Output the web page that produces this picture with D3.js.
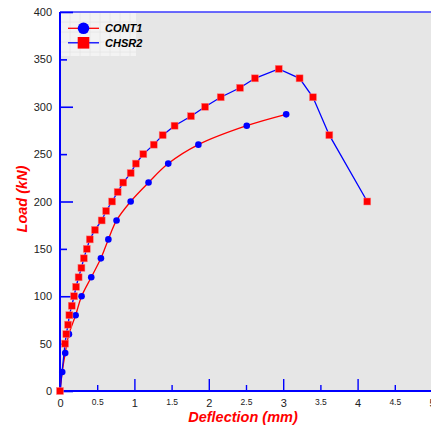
<!DOCTYPE html>
<html><head><meta charset="utf-8">
<script src="https://cdn.jsdelivr.net/npm/d3@7"></script>
<style>body{margin:0;background:#fff}svg{display:block}</style>
</head><body>
<svg id="c" width="431" height="428"></svg>
<script>
const seriesNames = ["CONT1", "CHSR2"];
const cont1X = [0, 0.03, 0.07, 0.12, 0.21, 0.29, 0.42, 0.55, 0.65, 0.76, 0.95, 1.19, 1.455, 1.86, 2.51, 3.04];
const cont1Y = [0, 20, 40, 60, 80, 100, 120, 140, 160, 180, 200, 220, 240, 260, 280, 292];
const chsr2X = [0, 0.068, 0.085, 0.108, 0.126, 0.158, 0.189, 0.216, 0.25, 0.288, 0.32, 0.36, 0.40, 0.47, 0.56, 0.62, 0.70, 0.775, 0.85, 0.95, 1.02, 1.12, 1.26, 1.38, 1.54, 1.76, 1.95, 2.16, 2.42, 2.62, 2.94, 3.22, 3.40, 3.62, 4.13];
const chsr2Y = [0, 50, 60, 70, 80, 90, 100, 110, 120, 130, 140, 150, 160, 170, 180, 190, 200, 210, 220, 230, 240, 250, 260, 270, 280, 290, 300, 310, 320, 330, 340, 330, 310, 270, 200];
const xTicks = [0, 0.5, 1, 1.5, 2, 2.5, 3, 3.5, 4, 4.5, 5];
const yTicks = [0, 50, 100, 150, 200, 250, 300, 350, 400];
const xTitle = "Deflection (mm)";
const yTitle = "Load (kN)";

const svg = d3.select("#c");
const L = 60, T = 12, B = 391, R = 432;
const x = d3.scaleLinear().domain([0, 5]).range([L, R]);
const y = d3.scaleLinear().domain([0, 400]).range([B, T]);
const blue = "#0000ff", red = "#ff0000";
const font = "Liberation Sans, Arial, sans-serif";

svg.append("rect").attr("x", L).attr("y", T).attr("width", 431 - L).attr("height", B - T).attr("fill", "#e6e6e6");

// legend box
const lg = svg.append("g");
lg.append("rect").attr("x", L + 1).attr("y", T + 1).attr("width", 75).attr("height", 43).attr("fill", "#f3f3f3");
for (let gx = L + 10; gx < L + 76; gx += 10) lg.append("line").attr("x1", gx).attr("x2", gx).attr("y1", T + 1).attr("y2", T + 44).attr("stroke", "#e4e4e4").attr("stroke-width", 0.8);
for (let gy = T + 10; gy < T + 44; gy += 10) lg.append("line").attr("x1", L + 1).attr("x2", L + 76).attr("y1", gy).attr("y2", gy).attr("stroke", "#e4e4e4").attr("stroke-width", 0.8);

// top border
svg.append("line").attr("x1", L).attr("x2", 431).attr("y1", T).attr("y2", T).attr("stroke", "#3a3aff").attr("stroke-width", 1.6);

// axes
const xAxis = d3.axisBottom(x).tickValues(xTicks).tickSize(0).tickFormat(d => d);
const gx = svg.append("g").attr("transform", `translate(0,${B})`).call(xAxis);
gx.select(".domain").remove();
gx.selectAll(".tick text").attr("font-family", font).attr("fill", "#222")
  .attr("font-size", d => Number.isInteger(d) ? 11 : 8.5)
  .attr("dy", d => Number.isInteger(d) ? "1.05em" : "1.2em").attr("y", 4);
gx.selectAll(".tick").append("line").attr("y1", 0).attr("y2", d => Number.isInteger(d) ? -12 : -6)
  .attr("stroke", blue).attr("stroke-width", 1.4);

const yAxis = d3.axisLeft(y).tickValues(yTicks).tickSize(0).tickFormat(d => d);
const gy = svg.append("g").attr("transform", `translate(${L},0)`).call(yAxis);
gy.select(".domain").remove();
gy.selectAll(".tick text").attr("font-family", font).attr("fill", "#222").attr("font-size", 11).attr("x", -8);
gy.selectAll(".tick").append("line").attr("x1", 0).attr("x2", d => d % 100 === 0 ? 13 : 7)
  .attr("stroke", blue).attr("stroke-width", 1.6);

svg.append("line").attr("x1", L).attr("x2", L).attr("y1", T).attr("y2", B + 1).attr("stroke", blue).attr("stroke-width", 2);
svg.append("line").attr("x1", L).attr("x2", 431).attr("y1", B).attr("y2", B).attr("stroke", blue).attr("stroke-width", 2);

// titles
svg.append("text").attr("x", 243).attr("y", 422).attr("text-anchor", "middle")
  .attr("font-family", font).attr("font-weight", "bold").attr("font-style", "italic").attr("font-size", 14.5).attr("fill", red).text(xTitle);
svg.append("text").attr("transform", "translate(27,199) rotate(-90)").attr("text-anchor", "middle")
  .attr("font-family", font).attr("font-weight", "bold").attr("font-style", "italic").attr("font-size", 14.5).attr("fill", red).text(yTitle);

// data
const d1 = cont1X.map((v, i) => [v, cont1Y[i]]);
const d2 = chsr2X.map((v, i) => [v, chsr2Y[i]]);
const clip = svg.append("clipPath").attr("id", "pc").append("rect").attr("x", L - 6).attr("y", T).attr("width", 431).attr("height", B - T + 6);

const line1 = d3.line().x(d => x(d[0])).y(d => y(d[1])).curve(d3.curveCatmullRom.alpha(0.5));
const line2 = d3.line().x(d => x(d[0])).y(d => y(d[1]));
const plot = svg.append("g");
plot.append("path").attr("d", line1(d1)).attr("fill", "none").attr("stroke", red).attr("stroke-width", 1.3);
plot.append("path").attr("d", line2(d2)).attr("fill", "none").attr("stroke", blue).attr("stroke-width", 1.3);
plot.selectAll("circle.c1").data(d1.slice(1)).join("circle").attr("class", "c1")
  .attr("cx", d => x(d[0])).attr("cy", d => y(d[1])).attr("r", 3.3).attr("fill", blue);
const s = 7;
plot.selectAll("rect.c2").data(d2).join("rect").attr("class", "c2")
  .attr("x", d => x(d[0]) - s / 2).attr("y", d => y(d[1]) - s / 2).attr("width", s).attr("height", s)
  .attr("fill", red).attr("stroke", "#ff8080").attr("stroke-width", 0.5);

// legend items
lg.append("line").attr("x1", 68).attr("x2", 99).attr("y1", 28.3).attr("y2", 28.3).attr("stroke", red).attr("stroke-width", 1.3);
lg.append("circle").attr("cx", 83.5).attr("cy", 28.3).attr("r", 5.8).attr("fill", blue);
lg.append("line").attr("x1", 68).attr("x2", 99).attr("y1", 42.8).attr("y2", 42.8).attr("stroke", blue).attr("stroke-width", 1.3);
lg.append("rect").attr("x", 77.7).attr("y", 37).attr("width", 11.6).attr("height", 11.6).attr("fill", red);
lg.selectAll("text.lt").data(seriesNames).join("text").attr("class", "lt")
  .attr("x", 105).attr("y", (d, i) => 32.3 + i * 14.5)
  .attr("font-family", font).attr("font-weight", "bold").attr("font-style", "italic").attr("font-size", 11).attr("fill", "#000").text(d => d);
</script>
</body></html>
